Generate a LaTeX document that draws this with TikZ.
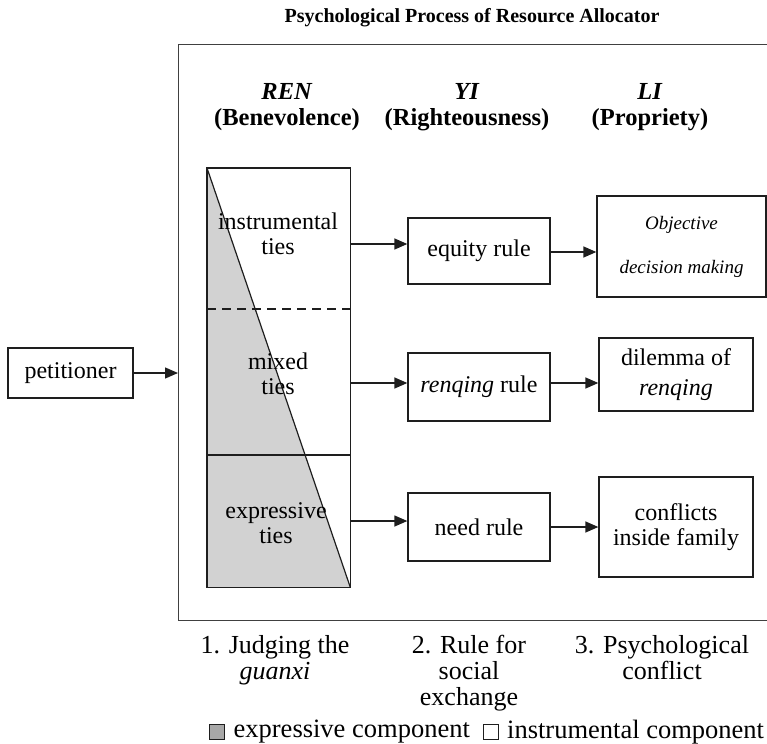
\documentclass[tikz,border=0pt]{standalone}
\usepackage{fontspec}
\setmainfont{Liberation Serif}
\usetikzlibrary{arrows.meta}

\definecolor{tiesgray}{HTML}{D2D2D2}
\definecolor{legendgray}{HTML}{A8A8A8}
\definecolor{ink}{HTML}{1E1E1E}

\begin{document}
\begin{tikzpicture}[x=1pt,y=-1pt,
  line width=1.3pt, draw=ink,
  box/.style={draw=ink, line width=1.3pt, inner sep=0pt, align=center,
    font=\fontsize{24}{25}\selectfont},
  body/.style={inner sep=0pt, align=center, font=\fontsize{24}{25}\selectfont},
  hdr/.style={inner sep=0pt, align=center, font=\fontsize{24.5}{25.5}\selectfont\bfseries},
  foot/.style={inner sep=0pt, align=center, font=\fontsize{26}{26}\selectfont},
  arr/.style={draw=ink, line width=1.3pt, -{Triangle[length=13pt,width=11pt]}},
  swatch/.style={draw=ink, line width=1pt, minimum size=15, inner sep=0pt}]

\useasboundingbox (0,0) rectangle (767,743);

% title and outer frame
\node[inner sep=0pt, font=\fontsize{20}{22}\selectfont\bfseries] (title) at (472,18)
  {Psychological Process of Resource Allocator};
\node[draw=ink!85, line width=1.3pt, minimum width=620, minimum height=576,
  anchor=north west, inner sep=0pt] (frame) at (178,44) {};

% column headers
\node[hdr] (ren) at (287,107) {\textit{REN}\\(Benevolence)};
\node[hdr] (yi)  at (467,107) {\textit{YI}\\(Righteousness)};
\node[hdr] (li)  at (650,107) {\textit{LI}\\(Propriety)};

% petitioner
\node[box, minimum width=125, minimum height=50] (pet) at (70.5,373) {petitioner};
\draw[arr] (pet.east) -- (pet.east -| frame.west);

% guanxi column: shaded triangle, bands and labels
\node[minimum width=142, minimum height=418, anchor=north west, inner sep=0pt]
  (ties) at (207,168) {};
\fill[tiesgray] (ties.north west) -- (ties.south east) -- (ties.south west) -- cycle;
\draw[line width=1.2pt] (ties.north west) rectangle (ties.south east);
\draw[line width=2.2pt] (ties.north west) -- (ties.north east);
\draw[line width=1.2pt] (ties.north west) -- (ties.south east);
\draw[line width=1.4pt, dash pattern=on 9pt off 6pt]
  ([yshift=-141]ties.north west) -- ([yshift=-141]ties.north east);
\draw[line width=1.2pt] ([yshift=-287]ties.north west) -- ([yshift=-287]ties.north east);

\node[body] (instr) at (278,234) {instrumental\\ties};
\node[body] (mixed) at (278,374) {mixed\\ties};
\node[body] (expr)  at (276,523) {expressive\\ties};

% rules for social exchange
\node[box, minimum width=142, minimum height=66] (equity)  at (479,251) {equity rule};
\node[box, minimum width=142, minimum height=68] (renq)    at (479,387) {\textit{renqing} rule};
\node[box, minimum width=142, minimum height=68] (need)    at (479,527) {need rule};

% psychological conflicts
\node[box, minimum width=169, minimum height=101, font=\fontsize{19}{44}\selectfont\itshape]
  (obj) at (681.5,246.5) {Objective\\decision making};
\node[box, minimum width=154, minimum height=73, font=\fontsize{24}{30}\selectfont]
  (dil) at (676,374.5) {dilemma of\\\textit{renqing}};
\node[box, minimum width=154, minimum height=100]
  (conf) at (676,527) {conflicts\\inside family};

% connectors
\draw[arr] (ties.east |- 0,244) -- (equity.west |- 0,244);
\draw[arr] (ties.east |- 0,383) -- (renq.west |- 0,383);
\draw[arr] (ties.east |- 0,521) -- (need.west |- 0,521);
\draw[arr] (equity.east |- 0,252) -- (obj.west |- 0,252);
\draw[arr] (renq.east |- 0,383) -- (dil.west |- 0,383);
\draw[arr] (need.east |- 0,527) -- (conf.west |- 0,527);

% step labels
\node[foot, anchor=north] (s1) at (275,635) {1. Judging the\\\textit{guanxi}};
\node[foot, anchor=north] (s2) at (469,635) {2. Rule for\\social\\exchange};
\node[foot, anchor=north] (s3) at (662,635) {3. Psychological\\conflict};

% legend
\node[swatch, fill=legendgray] (kexp) at (217,732) {};
\node[foot, anchor=west, font=\fontsize{26.5}{26}\selectfont] (lexp) at ([xshift=8]kexp.east) {expressive component};
\node[swatch, fill=white] (kins) at ([xshift=20]lexp.east) {};
\node[foot, anchor=west, font=\fontsize{26.5}{26}\selectfont] (lins) at ([xshift=8]kins.east) {instrumental component};
\end{tikzpicture}
\end{document}
